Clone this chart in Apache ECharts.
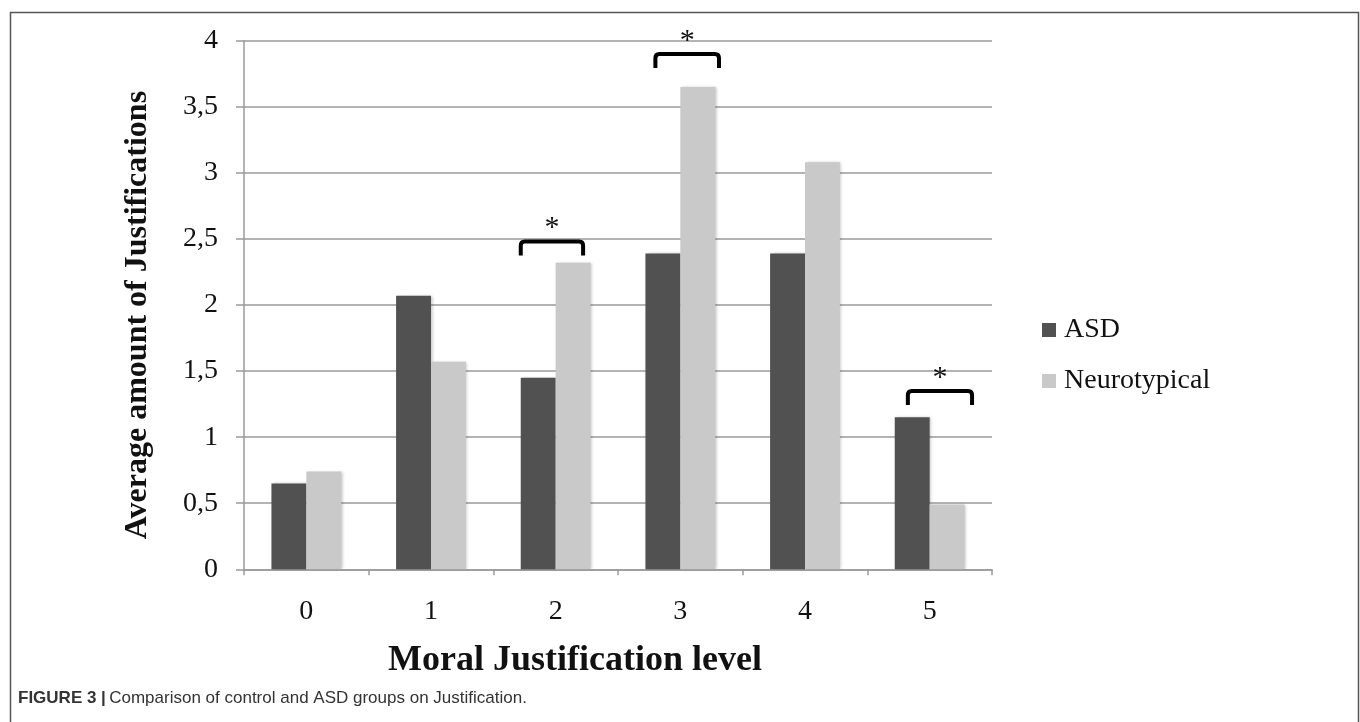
<!DOCTYPE html>
<html>
<head>
<meta charset="utf-8">
<script src="https://cdn.jsdelivr.net/npm/echarts@6/dist/echarts.min.js"></script>
<style>
html,body{margin:0;padding:0;background:#fff;}
#chart{width:1360px;height:722px;}
</style>
</head>
<body>
<div id="chart"></div>
<script>
const categories = ['0', '1', '2', '3', '4', '5'];
const asdValues = [0.65, 2.07, 1.45, 2.39, 2.39, 1.15];
const neurotypicalValues = [0.74, 1.57, 2.32, 3.65, 3.08, 0.49];
const yTicks = [0, 0.5, 1, 1.5, 2, 2.5, 3, 3.5, 4];
// significance brackets: category index and bracket top level (value units)
const bracketCategories = [2, 3, 5];
const bracketLevels = [2.48, 3.9, 1.35];
const bracketMarks = ['*', '*', '*'];

const serif = "'Times New Roman', 'Liberation Serif', serif";
const chart = echarts.init(document.getElementById('chart'), null, {renderer: 'canvas'});

// placement of each bracket relative to its category band (fraction of band width)
const bracketSpan = [[-0.28, 0.22], [-0.20, 0.31], [-0.175, 0.34]];

const option = {
  animation: false,
  backgroundColor: '#ffffff',
  grid: {left: 244, right: 368, top: 40.7, bottom: 152.7, containLabel: false},
  legend: {
    data: ['ASD', 'Neurotypical'],
    orient: 'vertical',
    left: 1037,
    top: 310,
    itemWidth: 14,
    itemHeight: 14,
    itemGap: 21,
    icon: 'rect',
    textStyle: {fontFamily: serif, fontSize: 28, color: '#111', lineHeight: 30, padding: [0, 0, 0, 3]}
  },
  xAxis: {
    type: 'category',
    data: categories,
    name: 'Moral Justification level',
    nameLocation: 'middle',
    nameGap: 73,
    nameTextStyle: {fontFamily: serif, fontSize: 36, fontWeight: 'bold', color: '#111', padding: [0, 86, 0, 0]},
    axisLine: {lineStyle: {color: '#9a9a9a', width: 1.5}},
    axisTick: {show: true, length: 6, inside: false, lineStyle: {color: '#9a9a9a', width: 1.5}},
    axisLabel: {fontFamily: serif, fontSize: 28, color: '#111', margin: 28},
    splitLine: {show: false}
  },
  yAxis: {
    type: 'value',
    min: 0,
    max: 4,
    interval: 0.5,
    name: 'Average amount of Justifications',
    nameLocation: 'middle',
    nameGap: 90,
    nameTextStyle: {fontFamily: serif, fontSize: 32, fontWeight: 'bold', color: '#111', padding: [0, 20, 0, 0]},
    axisLine: {show: true, lineStyle: {color: '#9a9a9a', width: 1.5}},
    axisTick: {show: true, length: 8, lineStyle: {color: '#9a9a9a', width: 1.5}},
    axisLabel: {
      fontFamily: serif, fontSize: 28, color: '#111', margin: 26,
      formatter: function (v) { return yTicks.indexOf(v) >= 0 ? String(v).replace('.', ',') : ''; }
    },
    splitLine: {show: true, lineStyle: {color: '#9a9a9a', width: 1.5}}
  },
  series: [
    {
      name: 'ASD', type: 'bar', data: asdValues,
      barWidth: '28%', barGap: '0%',
      itemStyle: {color: '#515151', shadowColor: 'rgba(0,0,0,0.25)', shadowBlur: 3, shadowOffsetX: 1.5, shadowOffsetY: 0}
    },
    {
      name: 'Neurotypical', type: 'bar', data: neurotypicalValues,
      barWidth: '28%', barGap: '0%',
      itemStyle: {color: '#c9c9c9', shadowColor: 'rgba(0,0,0,0.25)', shadowBlur: 3, shadowOffsetX: 1.5, shadowOffsetY: 0}
    },
    {
      name: 'brackets', type: 'custom', z: 10,
      data: bracketCategories.map(function (c, i) { return [c, bracketLevels[i], i]; }),
      encode: {x: 0, y: 1},
      renderItem: function (params, api) {
        const i = api.value(2);
        const p = api.coord([api.value(0), api.value(1)]);
        const band = api.size([1, 0])[0];
        const x1 = p[0] + bracketSpan[i][0] * band;
        const x2 = p[0] + bracketSpan[i][1] * band;
        const y = p[1];
        const h = 14, r = 4;
        const path = 'M' + x1 + ' ' + (y + h) + ' L' + x1 + ' ' + (y + r) +
          ' Q' + x1 + ' ' + y + ' ' + (x1 + r) + ' ' + y +
          ' L' + (x2 - r) + ' ' + y +
          ' Q' + x2 + ' ' + y + ' ' + x2 + ' ' + (y + r) +
          ' L' + x2 + ' ' + (y + h);
        return {
          type: 'group',
          children: [
            {type: 'path', shape: {pathData: path}, style: {fill: null, stroke: '#000', lineWidth: 4, lineJoin: 'round'}},
            {type: 'text', style: {text: bracketMarks[i], x: (x1 + x2) / 2, y: y - 13, align: 'center', verticalAlign: 'middle',
              font: '30px ' + serif, fill: '#111'}}
          ]
        };
      }
    }
  ],
  graphic: [
    {type: 'rect', left: 8, top: 10, shape: {x: 0, y: 0, width: 1348, height: 760},
      style: {fill: null, stroke: '#555', lineWidth: 1.5}, silent: true},
    {type: 'text', left: 18, top: 690,
      style: {
        text: '{b|FIGURE 3 |} {r|Comparison of control and ASD groups on Justification.}',
        rich: {
          b: {fontFamily: "'Liberation Sans', Arial, sans-serif", fontSize: 17, fontWeight: 'bold', fill: '#333'},
          r: {fontFamily: "'Liberation Sans', Arial, sans-serif", fontSize: 17, fill: '#333'}
        }
      }}
  ]
};
chart.setOption(option);
</script>
</body>
</html>
